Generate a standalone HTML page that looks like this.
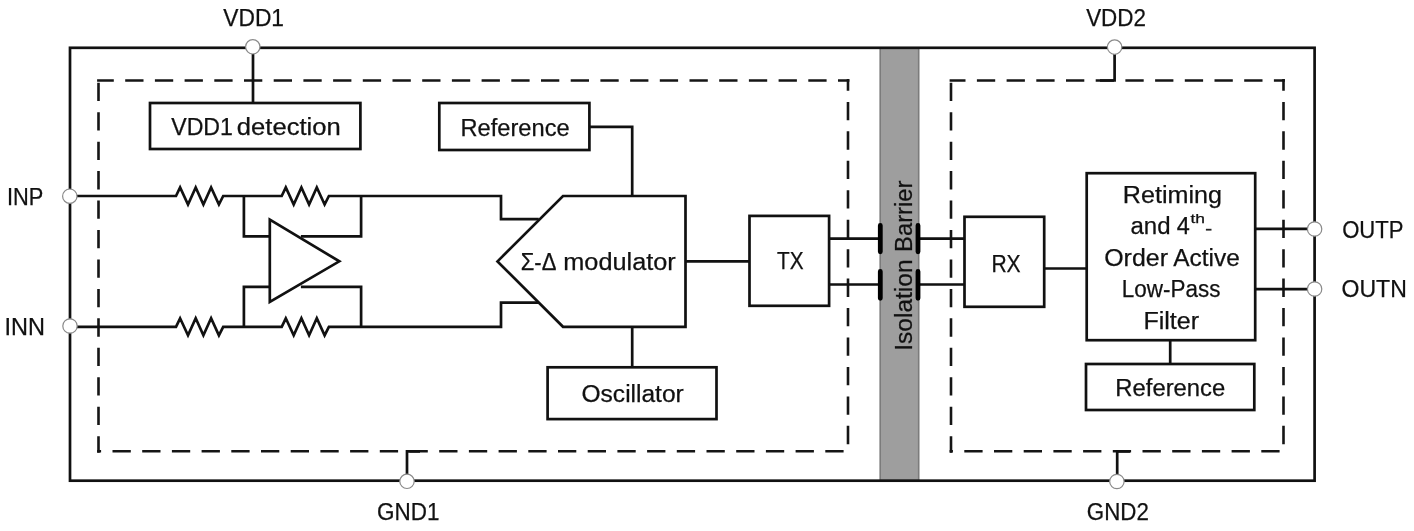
<!DOCTYPE html>
<html><head><meta charset="utf-8">
<style>
html,body{margin:0;padding:0;background:#fff;width:1414px;height:531px;overflow:hidden}
svg{display:block;filter:blur(0.35px)}
text{font-family:"Liberation Sans",sans-serif;font-size:23.5px;fill:#111;stroke:#111;stroke-width:0.25}
</style></head><body>
<svg width="1414" height="531" viewBox="0 0 1414 531">
<rect x="880.2" y="48" width="38.5" height="432.5" fill="#9e9e9e" stroke="#7b7b7b" stroke-width="1.6"/>
<g fill="none" stroke="#111" stroke-width="2.7">
  <rect x="70" y="47.8" width="1244.6" height="432.9"/>
</g>
<g fill="none" stroke="#151515" stroke-width="2.6">
<path d="M97.1 80.5 H849.4" stroke-dasharray="18.3 11.40" stroke-dashoffset="1.60"/>
<path d="M98.5 79.1 V452.7" stroke-dasharray="18.3 11.15" stroke-dashoffset="25.80"/>
<path d="M97.1 451.3 H849.4" stroke-dasharray="18.3 11.40" stroke-dashoffset="14.30"/>
<path d="M848 79.1 V452.7" stroke-dasharray="18.3 11.15" stroke-dashoffset="6.65"/>
<path d="M949.6 80.5 H1284.9" stroke-dasharray="18.3 11.40" stroke-dashoffset="2.40"/>
<path d="M951 79.1 V452.7" stroke-dasharray="18.3 11.15" stroke-dashoffset="25.80"/>
<path d="M949.6 451.3 H1284.9" stroke-dasharray="18.3 11.40" stroke-dashoffset="15.00"/>
<path d="M1283.5 79.1 V452.7" stroke-dasharray="18.3 11.15" stroke-dashoffset="6.65"/>
</g>
<g fill="none" stroke="#111" stroke-width="2.7">
  <path d="M253 47.5 V103"/>
  <rect x="150" y="103" width="210.4" height="46"/>
  <rect x="439.3" y="103" width="150.1" height="47"/>
  <path d="M589.4 126.9 H632.2 V196"/>
  <path d="M563 196 H685.5 V326.8 H563 L497.5 261.4 Z"/>
  <path d="M632.2 326.8 V367.3"/>
  <rect x="547.6" y="367.3" width="168.9" height="51.8"/>
  <path d="M70 196 H176 L180.1 187.5 L188 204.5 L195.7 187.5 L203.4 204.5 L211.1 187.5 L218.9 204.5 L223.2 196 H281.7 L285.8 187.5 L293.7 204.5 L301.4 187.5 L309.1 204.5 L316.8 187.5 L324.6 204.5 L328.9 196 H501 V219.2 H538.8"/>
  <path d="M70 326.8 H176 L180.1 318.3 L188 335.3 L195.7 318.3 L203.4 335.3 L211.1 318.3 L218.9 335.3 L223.2 326.8 H281.7 L285.8 318.3 L293.7 335.3 L301.4 318.3 L309.1 335.3 L316.8 318.3 L324.6 335.3 L328.9 326.8 H501 V302.7 H538.8"/>
  <path d="M243.9 196 V236.3 H269.8"/>
  <path d="M361.1 196 V236.3 H300.9"/>
  <path d="M243.9 326.8 V286.9 H269.8"/>
  <path d="M361.1 326.8 V286.9 H300.9"/>
  <path d="M269.8 219.6 V301.9 L339.3 261.3 Z"/>
  <path d="M685.5 261.4 H749"/>
  <rect x="749.5" y="215.9" width="79.6" height="89.9"/>
  <path d="M829 238.7 H880.3 M829 284.5 H880.3"/>
  <path d="M918 238.7 H964.5 M918 284.5 H964.5"/>
  <rect x="964.5" y="216.8" width="79.7" height="90"/>
  <path d="M1044.2 268.5 H1086.7"/>
  <rect x="1086.7" y="173.2" width="168.5" height="167"/>
  <path d="M1170.2 340.2 V364"/>
  <rect x="1086" y="364" width="168.3" height="46"/>
  <path d="M1255.2 228.8 H1314.6 M1255.2 289.1 H1314.6"/>
  <path d="M1114.6 47.5 V80.5 H1100"/>
  <path d="M407 481 V451.3 H420"/>
  <path d="M1117.2 481 V451.3 H1130"/>
</g>
<path d="M1205.9 229.7 H1211.5" stroke="#222" stroke-width="1.8"/>
<g stroke="#000" stroke-width="4.8" stroke-linecap="round">
  <path d="M880.3 225.5 V251.8 M880.3 271.5 V298.3 M918 225.5 V251.8 M918 271.5 V298.3"/>
</g>
<g fill="#fff" stroke="#8a8a8a" stroke-width="1.2">
  <circle cx="252.8" cy="46.8" r="7.2"/>
  <circle cx="1114.6" cy="47.1" r="7.2"/>
  <circle cx="407" cy="481.3" r="7.2"/>
  <circle cx="1116.9" cy="481.5" r="7.2"/>
  <circle cx="69.8" cy="196.2" r="7.2"/>
  <circle cx="70" cy="326" r="7.2"/>
  <circle cx="1314.6" cy="229" r="7.2"/>
  <circle cx="1314.6" cy="289" r="7.2"/>
</g>
<g>
  <text x="223.24" y="25.8" textLength="60.78" lengthAdjust="spacingAndGlyphs">VDD1</text>
  <text x="1086.14" y="25.5" textLength="59.83" lengthAdjust="spacingAndGlyphs">VDD2</text>
  <text x="377.06" y="520.3" textLength="62.42" lengthAdjust="spacingAndGlyphs">GND1</text>
  <text x="1086.86" y="520.0" textLength="61.98" lengthAdjust="spacingAndGlyphs">GND2</text>
  <text x="6.89" y="204.9" textLength="36.36" lengthAdjust="spacingAndGlyphs">INP</text>
  <text x="4.58" y="335.3" textLength="40.46" lengthAdjust="spacingAndGlyphs">INN</text>
  <text x="1342.16" y="237.8" textLength="61.34" lengthAdjust="spacingAndGlyphs">OUTP</text>
  <text x="1341.55" y="297.4" textLength="65.23" lengthAdjust="spacingAndGlyphs">OUTN</text>
  <text x="171.24" y="134.7" textLength="61.69" lengthAdjust="spacingAndGlyphs">VDD1</text>
  <text x="236.87" y="134.7" textLength="103.92" lengthAdjust="spacingAndGlyphs">detection</text>
  <text x="460.44" y="135.7" textLength="109.23" lengthAdjust="spacingAndGlyphs">Reference</text>
  <text x="520.75" y="269.8" textLength="35.63" lengthAdjust="spacingAndGlyphs">Σ-Δ</text>
  <text x="563.31" y="269.8" textLength="112.44" lengthAdjust="spacingAndGlyphs">modulator</text>
  <text x="581.53" y="401.7" textLength="102.23" lengthAdjust="spacingAndGlyphs">Oscillator</text>
  <text x="777.08" y="269.4" textLength="26.54" lengthAdjust="spacingAndGlyphs">TX</text>
  <text x="991.38" y="271.5" textLength="29.30" lengthAdjust="spacingAndGlyphs">RX</text>
  <text x="1122.82" y="202.9" textLength="99.13" lengthAdjust="spacingAndGlyphs">Retiming</text>
  <text x="1130.43" y="233.9" textLength="40.11" lengthAdjust="spacingAndGlyphs">and</text>
  <text x="1176.64" y="233.9" textLength="13.04" lengthAdjust="spacingAndGlyphs">4</text>
  <text x="1190.52" y="222.6" textLength="14.52" lengthAdjust="spacingAndGlyphs" style="font-size:13px">th</text>
  <text x="1104.22" y="265.5" textLength="63.74" lengthAdjust="spacingAndGlyphs">Order</text>
  <text x="1173.30" y="265.5" textLength="66.52" lengthAdjust="spacingAndGlyphs">Active</text>
  <text x="1121.80" y="297.2" textLength="98.57" lengthAdjust="spacingAndGlyphs">Low-Pass</text>
  <text x="1143.41" y="328.8" textLength="55.70" lengthAdjust="spacingAndGlyphs">Filter</text>
  <text x="1115.34" y="395.8" textLength="109.94" lengthAdjust="spacingAndGlyphs">Reference</text>
  <text transform="translate(911.8 348.4) rotate(-90)" x="-2.35" y="0" textLength="91.27" lengthAdjust="spacingAndGlyphs">Isolation</text>
  <text transform="translate(911.8 348.4) rotate(-90)" x="96.53" y="0" textLength="71.18" lengthAdjust="spacingAndGlyphs">Barrier</text>
</g>
</svg>
</body></html>
